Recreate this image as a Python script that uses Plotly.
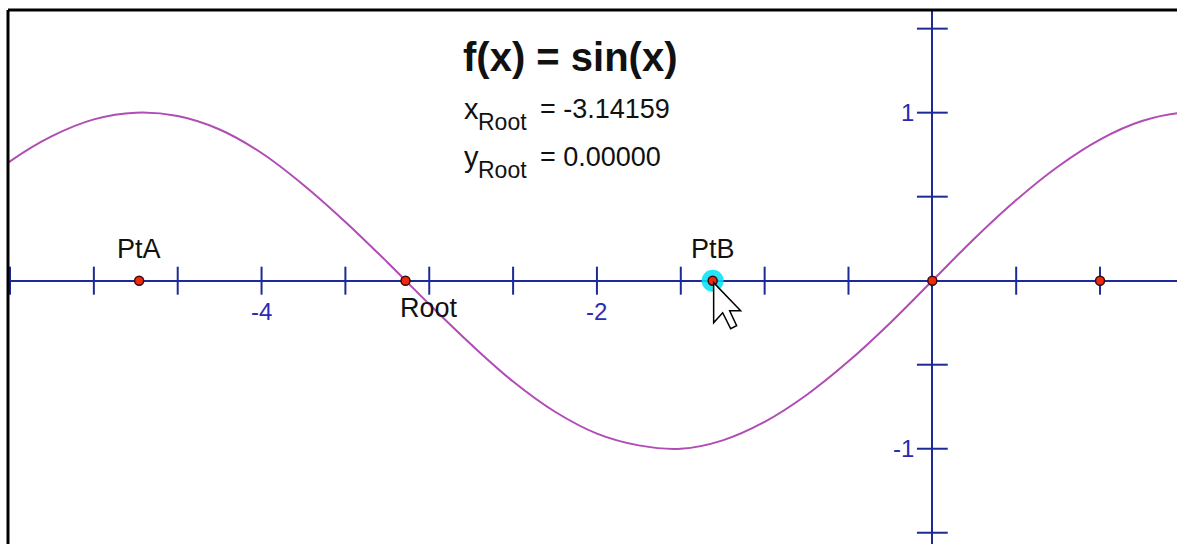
import plotly.graph_objects as go

# ---------------- data ----------------
curve_x = [-5.75, -5.5, -5.25, -5.0, -4.75, -4.5, -4.25, -4.0, -3.75, -3.5, -3.25,
           -3.0, -2.75, -2.5, -2.25, -2.0, -1.75, -1.5, -1.25, -1.0, -0.75, -0.5,
           -0.25, 0.0, 0.25, 0.5, 0.75, 1.0, 1.25, 1.5, 1.75]
curve_y = [0.51, 0.71, 0.86, 0.96, 1.00, 0.98, 0.90, 0.76, 0.57, 0.35, 0.11,
           -0.14, -0.38, -0.60, -0.78, -0.91, -0.98, -1.00, -0.95, -0.84, -0.68, -0.48,
           -0.25, 0.00, 0.25, 0.48, 0.68, 0.84, 0.95, 1.00, 0.98]

point_names = ["PtA", "Root", "PtB", "", ""]
point_x = [-4.73, -3.14159, -1.31, 0.0, 1.0]
point_y = [0.0, 0.0, 0.0, 0.0, 0.0]

root_x = -3.14159
root_y = 0.00000

x_minor_ticks = [-5.5, -5.0, -4.5, -4.0, -3.5, -3.0, -2.5, -2.0, -1.5, -1.0, -0.5, 0.5, 1.0]
y_minor_ticks = [1.5, 1.0, 0.5, -0.5, -1.0, -1.5]
x_tick_vals = [-4, -2]
x_tick_text = ["-4", "-2"]
y_tick_vals = [1, -1]
y_tick_text = ["1", "-1"]

title_text = "f(x) = sin(x)"

# ---------------- style ----------------
AXIS = "#1c2a96"
CURVE = "#b04cb4"
TICKLBL = "#2a2ab4"
TXT = "#111111"
FONT = "Liberation Sans, Arial, sans-serif"

# plot area spans page x 8..1177, y 10..544
PW, PH = 1169, 534


def px_x(p):
    return (p - 8) / PW


def px_y(p):
    return (544 - p) / PH


fig = go.Figure()

fig.add_trace(go.Scatter(
    x=curve_x, y=curve_y, mode="lines",
    line=dict(color=CURVE, width=2, shape="spline", smoothing=1.0),
    hoverinfo="skip"))

fig.add_trace(go.Scatter(
    x=x_minor_ticks, y=[0] * len(x_minor_ticks), mode="markers",
    marker=dict(symbol="line-ns", size=20, line=dict(color=AXIS, width=2)),
    hoverinfo="skip"))
fig.add_trace(go.Scatter(
    x=[0] * len(y_minor_ticks), y=y_minor_ticks, mode="markers",
    marker=dict(symbol="line-ew", size=22, line=dict(color=AXIS, width=2)),
    hoverinfo="skip"))

# highlight halo on PtB
ptb = point_names.index("PtB")
fig.add_trace(go.Scatter(
    x=[point_x[ptb]], y=[point_y[ptb]], mode="markers",
    marker=dict(size=22, color="rgba(0,225,245,0.85)", line=dict(width=0)),
    hoverinfo="skip"))

fig.add_trace(go.Scatter(
    x=point_x, y=point_y, mode="markers",
    marker=dict(size=9, color="#f02810", line=dict(color="#3a0c08", width=1.5)),
    hoverinfo="skip"))

annotations = []
# tick labels
for v, t in zip(x_tick_vals, x_tick_text):
    annotations.append(dict(x=v, y=0, xref="x", yref="y", text=t, showarrow=False,
                            yshift=-31, xanchor="center", yanchor="middle",
                            font=dict(family=FONT, size=24, color=TICKLBL)))
for v, t in zip(y_tick_vals, y_tick_text):
    annotations.append(dict(x=0, y=v, xref="x", yref="y", text=t, showarrow=False,
                            xshift=-16, xanchor="right", yanchor="middle",
                            font=dict(family=FONT, size=24, color=TICKLBL)))
# point labels
label_offsets = {"PtA": (0, 32), "PtB": (0, 32), "Root": (23, -27)}
for name, px, py in zip(point_names, point_x, point_y):
    if not name:
        continue
    dx, dy = label_offsets[name]
    annotations.append(dict(x=px, y=py, xref="x", yref="y", text=name, showarrow=False,
                            xshift=dx, yshift=dy, xanchor="center", yanchor="middle",
                            font=dict(family=FONT, size=27, color=TXT)))
# title
annotations.append(dict(x=px_x(570), y=px_y(57), xref="paper", yref="paper",
                        text="<b>" + title_text + "</b>", showarrow=False,
                        xanchor="center", yanchor="middle",
                        font=dict(family=FONT, size=40, color=TXT)))


def text_at(txt, left, mid, size):
    return dict(x=px_x(left), y=px_y(mid), xref="paper", yref="paper", text=txt,
                showarrow=False, xanchor="left", yanchor="middle",
                font=dict(family=FONT, size=size, color=TXT))


# root coordinate read-outs: variable, subscript, value
for var, val, mid in (("x", root_x, 109), ("y", root_y, 157)):
    annotations.append(text_at(var, 462, mid, 29))
    annotations.append(text_at("Root", 476, mid + 13, 23))
    annotations.append(text_at(f"= {val:.5f}", 538, mid, 27))

shapes = [
    # frame (left and top edges)
    dict(type="line", xref="paper", yref="paper", x0=0, x1=0, y0=-0.1, y1=1,
         line=dict(color="black", width=3), layer="above"),
    dict(type="line", xref="paper", yref="paper", x0=0, x1=1.1, y0=1, y1=1,
         line=dict(color="black", width=3), layer="above"),
    # mouse pointer over PtB
    dict(type="path", xref="x", yref="y", xsizemode="pixel", ysizemode="pixel",
         xanchor=point_x[ptb], yanchor=point_y[ptb],
         path="M 1,-2 L 1,-42 L 10,-32 L 18,-48 L 24,-45 L 17,-30 L 28,-30 Z",
         fillcolor="white", line=dict(color="black", width=1.5), layer="above"),
]

fig.update_layout(
    width=1177, height=544,
    margin=dict(l=8, r=0, t=10, b=0),
    paper_bgcolor="white", plot_bgcolor="white",
    showlegend=False,
    xaxis=dict(range=[-5.512, 1.459], showgrid=False, zeroline=True,
               zerolinecolor=AXIS, zerolinewidth=2, showticklabels=False,
               ticks="", showline=False, fixedrange=True),
    yaxis=dict(range=[-1.567, 1.611], showgrid=False, zeroline=True,
               zerolinecolor=AXIS, zerolinewidth=2, showticklabels=False,
               ticks="", showline=False, fixedrange=True),
    annotations=annotations,
    shapes=shapes,
)

fig.write_html("out.html",
               config={"displayModeBar": False},
               post_script="document.body.style.margin='0';"
                           "document.body.style.overflow='hidden';")
